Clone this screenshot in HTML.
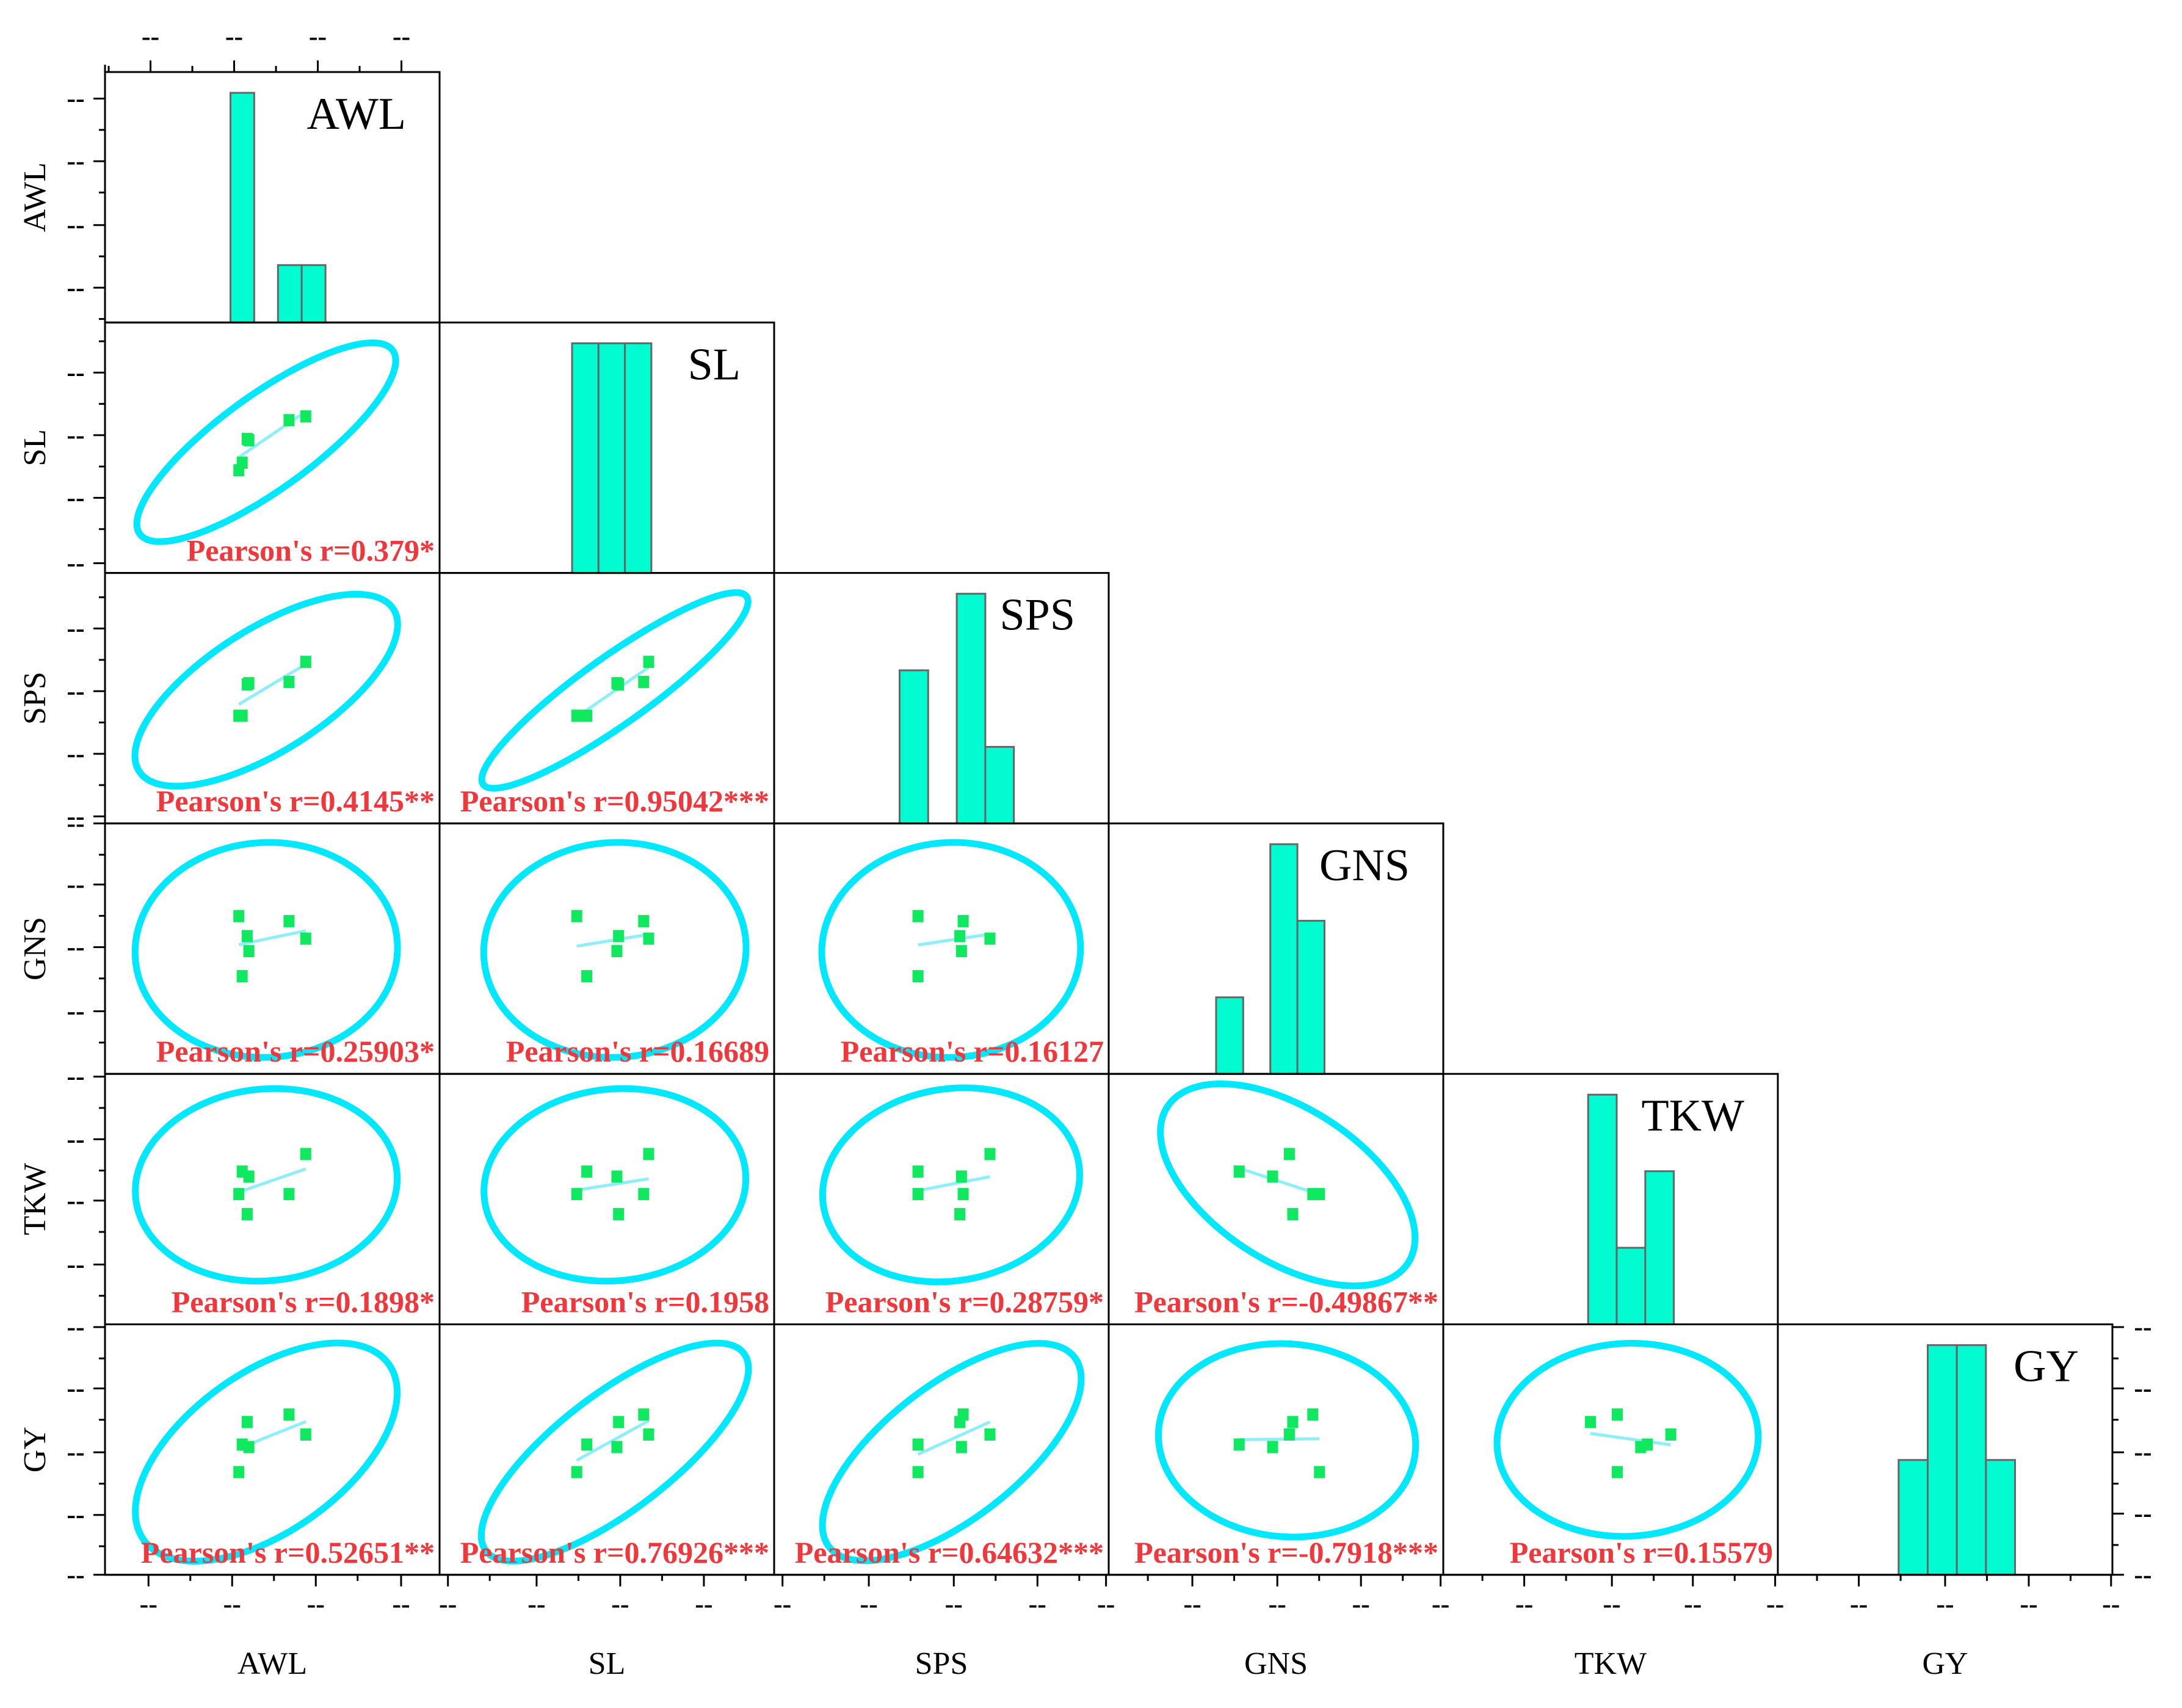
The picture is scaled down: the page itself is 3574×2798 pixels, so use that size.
<!DOCTYPE html>
<html><head><meta charset="utf-8">
<style>
html,body{margin:0;padding:0;background:#fff;}
svg{display:block;}
text{font-family:"Liberation Serif",serif;}
</style></head>
<body>
<svg id="chart" xmlns="http://www.w3.org/2000/svg" width="3574" height="2798" viewBox="0 0 3574 2798"></svg>
<script>
// ---- data ----
const varNames = ['AWL','SL','SPS','GNS','TKW','GY'];
// normalized sample values (0..1 of panel range) for 6 samples
const AWL = [0.40,0.41,0.43,0.425,0.55,0.60];
const SL  = [0.41,0.44,0.53,0.535,0.61,0.625];
const SPS = [0.43,0.43,0.56,0.555,0.565,0.645];
const GNS = [0.63,0.39,0.49,0.55,0.61,0.54];
const TKW = [0.52,0.61,0.59,0.44,0.52,0.68];
const GY  = [0.41,0.52,0.51,0.61,0.64,0.56];
const sampleSets = [AWL,SL,SPS,GNS,TKW,GY];
// histogram counts, bin start (fraction) and bin width (fraction)
const histCounts = [[4,0,1,1],[1,1,1],[2,0,3,1],[1,0,3,2],[3,1,2],[1,2,2,1]];
const histStart = [0.375,0.396,0.375,0.321,0.433,0.361];
const histWidth = [0.071,0.079,0.0854,0.081,0.0854,0.087];
// pearson labels for lower panels (row, col)
const pearsonRows = [1,2,2,3,3,3,4,4,4,4,5,5,5,5,5];
const pearsonCols = [0,0,1,0,1,2,0,1,2,3,0,1,2,3,4];
const pearsonText = ["0.379*","0.4145**","0.95042***","0.25903*","0.16689","0.16127","0.1898*","0.1958","0.28759*","-0.49867**","0.52651**","0.76926***","0.64632***","-0.7918***","0.15579"];
// confidence ellipse shape per lower panel: semi-axes and tilt
const ellipseA = [256,247,265,215,215,212,215,215,212,235,247,266,254,211,214];
const ellipseB = [77,100,55,176,176,176,157,157,157,125,130,95,110,158,158];
const ellipseAngle = [-36,-32.5,-35.5,-3,-3,-3,-6,-6,-10,33,-35.7,-37.5,-37.7,5,-3];
const ellipseCx = [0.482,0.482,0.524,0.482,0.524,0.529,0.482,0.524,0.529,0.535,0.482,0.524,0.531,0.533,0.551];
const ellipseCy = [0.478,0.468,0.469,0.505,0.505,0.505,0.443,0.443,0.443,0.443,0.51,0.51,0.51,0.463,0.461];
// left-axis tick fractions per row
const leftTicks = [[0.106,0.356,0.611,0.861],[0.2,0.45,0.7,0.961],[0.222,0.472,0.722,0.972],[0.0,0.244,0.494,0.75],[0.011,0.261,0.506,0.761],[0.011,0.256,0.511,0.761,1.0]];
const bottomTicks = [[0.13,0.38,0.63,0.885],[0.025,0.29,0.54,0.79],[0.025,0.283,0.537,0.787],[-0.008,0.25,0.504,0.754],[-0.008,0.242,0.504,0.746],[-0.008,0.242,0.5,0.75,0.996]];
const topTicks = [0.136,0.386,0.636,0.886];
const rightTicks = [0.011,0.256,0.511,0.756,1.0];

// ---- layout ----
const NS='http://www.w3.org/2000/svg';
const svg=document.getElementById('chart');
const X0=172, Y0=118, PW=548, PH=410.3;
function px(j,v){return X0+j*PW+v*PW;}
function py(i,v){return Y0+i*PH+(1-v)*PH;}
function mk(tag,attrs,parent){const e=document.createElementNS(NS,tag);for(const k in attrs)e.setAttribute(k,attrs[k]);(parent||svg).appendChild(e);return e;}

// histograms
for(let d=0;d<6;d++){
  const g=mk('g',{});
  
  
  const counts=histCounts[d], mx=Math.max(...counts)/0.917;
  counts.forEach((c,k)=>{
    if(c<=0)return;
    const x0=px(d,histStart[d]+k*histWidth[d]), x1=px(d,histStart[d]+(k+1)*histWidth[d]);
    const y0=py(d,c/mx), y1=py(d,0);
    const r=mk('rect',{x:x0,y:y0,width:x1-x0,height:y1-y0,fill:'#00fcd0',stroke:'#666','stroke-width':3},g);
    
    
  });
  const t=mk('text',{x:X0+(d+1)*PW-55,y:Y0+d*PH+93,'font-size':74,'text-anchor':'end',fill:'#000'},g);
  t.textContent=varNames[d];
  
  
}

// scatter panels
for(let p=0;p<pearsonRows.length;p++){
  const i=pearsonRows[p], j=pearsonCols[p];
  const g=mk('g',{});
  
  
  const cx=X0+j*PW+ellipseCx[p]*PW, cy=Y0+i*PH+ellipseCy[p]*PH;
  const el=mk('ellipse',{cx:cx,cy:cy,rx:ellipseA[p],ry:ellipseB[p],transform:`rotate(${ellipseAngle[p]} ${cx} ${cy})`,fill:'none',stroke:'#00e8ff','stroke-width':11},g);
  
  
  const xs=sampleSets[j], ys=sampleSets[i];
  const n=xs.length, mxv=xs.reduce((a,b)=>a+b)/n, myv=ys.reduce((a,b)=>a+b)/n;
  let sxy=0,sxx=0;for(let k=0;k<n;k++){sxy+=(xs[k]-mxv)*(ys[k]-myv);sxx+=(xs[k]-mxv)**2;}
  const slope=sxx?sxy/sxx:0, xmin=Math.min(...xs), xmax=Math.max(...xs);
  const ln=mk('line',{x1:px(j,xmin),y1:py(i,myv+slope*(xmin-mxv)),x2:px(j,xmax),y2:py(i,myv+slope*(xmax-mxv)),stroke:'#8eeefa','stroke-width':5},g);
  
  
  for(let k=0;k<n;k++){
    const r=mk('rect',{x:px(j,xs[k])-9,y:py(i,ys[k])-10,width:18,height:20,fill:'#10e860'},g);
    
    
  }
  const t=mk('text',{x:X0+(j+1)*PW-8,y:Y0+(i+1)*PH-20,'font-size':50,'font-weight':'bold','text-anchor':'end',fill:'#f0373c'},g);
  t.textContent="Pearson's r="+pearsonText[p];
  
  
}

// panel frames
for(let i=0;i<6;i++)for(let j=0;j<=i;j++){
  const r=mk('rect',{x:X0+j*PW,y:Y0+i*PH,width:PW,height:PH,fill:'none',stroke:'#000','stroke-width':3});
  
  
}

// axes
const ax=mk('g',{stroke:'#000','stroke-width':3});


function dash(x,y,anchor){const t=mk('text',{x:x,y:y,'font-size':44,'font-weight':'bold','text-anchor':anchor||'middle',fill:'#000',stroke:'none'});t.textContent='--';}
// left
for(let i=0;i<6;i++){
  const tk=leftTicks[i];
  tk.forEach((f,k)=>{
    const y=Y0+i*PH+f*PH;
    mk('line',{x1:X0-19,y1:y,x2:X0,y2:y},ax);
    dash(124,y+14);
    const ym=y+0.125*PH;
    if(ym<Y0+(i+1)*PH) mk('line',{x1:X0-10,y1:ym,x2:X0,y2:ym},ax);
    if(k===0){const y2=y-0.125*PH; if(y2>Y0+i*PH) mk('line',{x1:X0-10,y1:y2,x2:X0,y2:y2},ax);}
  });
  const cy=Y0+i*PH+PH/2;
  const t=mk('text',{x:74,y:cy,'font-size':52,'text-anchor':'middle',fill:'#000',stroke:'none',transform:`rotate(-90 74 ${cy})`});
  t.textContent=varNames[i];
  
  
}
// bottom
const YB=Y0+6*PH;
for(let j=0;j<6;j++){
  bottomTicks[j].forEach(f=>{
    const x=X0+j*PW+f*PW;
    mk('line',{x1:x,y1:YB,x2:x,y2:YB+19},ax);
    dash(x,YB+62);
    const xm=x+0.125*PW; if(xm<X0+(j+1)*PW) mk('line',{x1:xm,y1:YB,x2:xm,y2:YB+10},ax);
  });
  const t=mk('text',{x:X0+j*PW+PW/2,y:2742,'font-size':52,'text-anchor':'middle',fill:'#000',stroke:'none'});
  t.textContent=varNames[j];
  
  
}
mk('line',{x1:X0,y1:YB,x2:X0+6*PW,y2:YB},ax);
mk('line',{x1:X0,y1:Y0-12,x2:X0,y2:YB},ax);
// top (AWL column)
topTicks.forEach(f=>{
  const x=X0+f*PW;
  mk('line',{x1:x,y1:Y0-19,x2:x,y2:Y0},ax);
  dash(x,74);
  const xm=x-0.125*PW; mk('line',{x1:xm,y1:Y0-10,x2:xm,y2:Y0},ax);
});
// right (GY row)
const XR=X0+6*PW;
rightTicks.forEach((f,k)=>{
  const y=Y0+5*PH+f*PH;
  mk('line',{x1:XR,y1:y,x2:XR+19,y2:y},ax);
  dash(XR+50,y+14);
  if(k<rightTicks.length-1){const ym=y+0.125*PH; mk('line',{x1:XR,y1:ym,x2:XR+10,y2:ym},ax);}
});
mk('line',{x1:XR,y1:Y0+5*PH,x2:XR,y2:YB},ax);
</script>
</body></html>
